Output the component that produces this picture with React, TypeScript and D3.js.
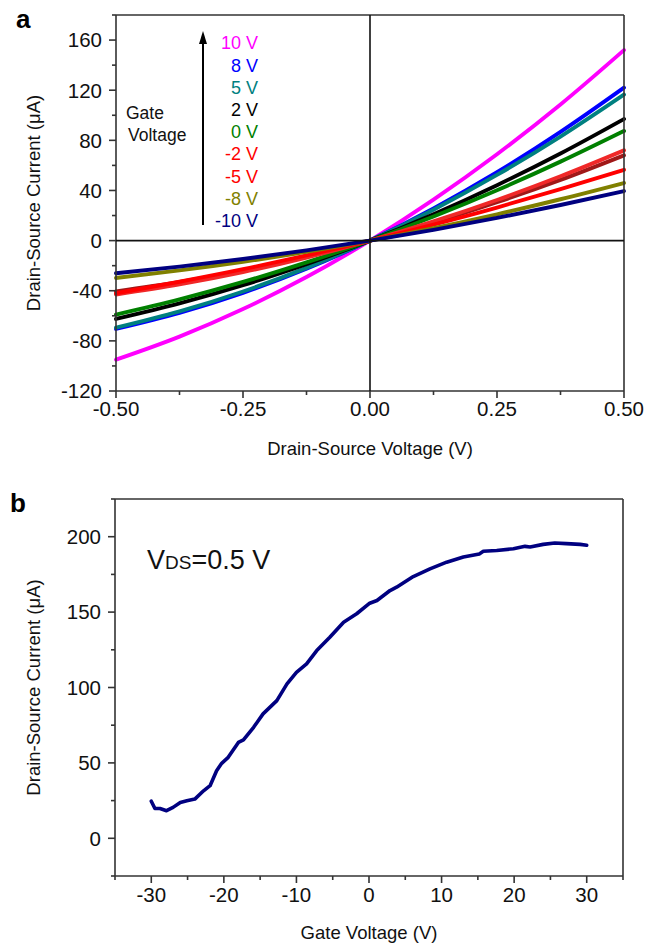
import React from "react";
import * as d3 from "d3";

// ---------- Panel a data ----------
const vds = [-0.5, -0.375, -0.25, -0.125, 0, 0.125, 0.25, 0.375, 0.5];
const i10 = [-95, -76.6, -54.6, -29.1, 0, 32.7, 68.9, 108.6, 152];
const i8 = [-70.5, -57.7, -41.7, -22.5, 0, 25.7, 54.5, 86.7, 122];
const i5 = [-69.5, -56.5, -40.6, -21.8, 0, 24.7, 52.4, 83.0, 116.5];
const i2 = [-62.5, -50.1, -35.6, -18.8, 0, 21.0, 44.2, 69.5, 97];
const i0 = [-59, -46.9, -33.0, -17.4, 0, 19.2, 40.2, 63.0, 87.5];
const im2 = [-43, -34.9, -25.1, -13.5, 0, 15.3, 32.4, 51.3, 72];
const im2b = [-40.5, -33.0, -23.7, -12.7, 0, 14.4, 30.6, 48.4, 68];
const im5 = [-42, -32.8, -22.8, -11.8, 0, 12.8, 26.4, 41.0, 56.5];
const im8 = [-29.8, -23.8, -16.9, -9.0, 0, 10.0, 21.0, 33.0, 46];
const im10 = [-26, -20.8, -14.7, -7.8, 0, 8.6, 18.1, 28.4, 39.5];

const seriesA = [
  { name: "10 V", values: i10, color: "#FF00FF" },
  { name: "8 V", values: i8, color: "#0000FF" },
  { name: "5 V", values: i5, color: "#008080" },
  { name: "2 V", values: i2, color: "#000000" },
  { name: "0 V", values: i0, color: "#008000" },
  { name: "-2 V b", values: im2b, color: "#A01818" },
  { name: "-2 V", values: im2, color: "#F02828" },
  { name: "-5 V", values: im5, color: "#FF0000" },
  { name: "-8 V", values: im8, color: "#808000" },
  { name: "-10 V", values: im10, color: "#000080" },
];

const legendLabels = ["10 V", "8 V", "5 V", "2 V", "0 V", "-2 V", "-5 V", "-8 V", "-10 V"];
const legendColors = ["#FF00FF", "#0000FF", "#008080", "#000000", "#008000", "#FF0000", "#FF0000", "#808000", "#000080"];

const xTicksA = [-0.5, -0.25, 0, 0.25, 0.5];
const xMinorA = [-0.375, -0.125, 0.125, 0.375];
const yTicksA = [-120, -80, -40, 0, 40, 80, 120, 160];
const yMinorA = [-100, -60, -20, 20, 60, 100, 140, 180];

// ---------- Panel b data ----------
const gateV = [-30, -29.5, -28.8, -27.9, -27, -26, -25.1, -24, -22.8, -21.9, -21, -20.3, -19.4, -18, -17.3, -15.9, -14.6, -12.7, -11.3, -10, -8.6, -7.2, -5.4, -3.5, -1.7, 0.1, 1.1, 2.9, 3.8, 6.1, 8.4, 10.7, 13, 15.2, 15.75, 17.6, 19.9, 21.5, 22.2, 24, 25.6, 27.2, 29.1, 30];
const currentB = [24.6, 19.8, 19.8, 18.3, 20.5, 23.8, 24.9, 26, 31.5, 34.9, 44.8, 49.7, 53.7, 63.6, 65.2, 73.6, 82.5, 91.3, 102.4, 110.1, 115.7, 124.5, 133.3, 143.3, 148.9, 155.9, 157.7, 164.3, 166.5, 173.6, 178.7, 183.1, 186.5, 188.6, 190.3, 190.9, 192, 193.6, 193.2, 194.9, 195.8, 195.4, 194.9, 194.3];

const xTicksB = [-30, -20, -10, 0, 10, 20, 30];
const xMinorB = [-35, -25, -15, -5, 5, 15, 25, 35];
const yTicksB = [0, 50, 100, 150, 200];
const yMinorB = [-25, 25, 75, 125, 175, 225];

const FONT = "'Liberation Sans', Arial, Helvetica, sans-serif";
const AXIS = "#333333";

export default function App() {
  const xA = d3.scaleLinear().domain([-0.5, 0.5]).range([116, 624]);
  const yA = d3.scaleLinear().domain([-120, 180]).range([391, 15]);
  const xB = d3.scaleLinear().domain([-35, 35]).range([115, 623]);
  const yB = d3.scaleLinear().domain([-25, 225]).range([876, 499]);

  const lineA = d3
    .line<number>()
    .x((_, i) => xA(vds[i]))
    .y((d) => yA(d))
    .curve(d3.curveMonotoneX);

  const lineB = d3
    .line<number>()
    .x((_, i) => xB(gateV[i]))
    .y((d) => yB(d))
    .curve(d3.curveLinear);

  const [ax0, ax1] = xA.range();
  const [ay0, ay1] = yA.range();
  const [bx0, bx1] = xB.range();
  const [by0, by1] = yB.range();

  const legendX = 258;
  const legendY0 = 43;
  const legendStep = 22.2;

  return (
    <svg
      width={646}
      height={946}
      style={{ position: "absolute", left: 0, top: 0, background: "#fff" }}
      fontFamily={FONT}
    >
      <rect x={0} y={0} width={646} height={946} fill="#fff" />
      {/* ================= Panel a ================= */}
      <text x={16} y={28} fontSize={26} fontWeight="bold" fill="#000">a</text>

      <g fill="none" strokeWidth={3.9} strokeLinecap="round">
        {seriesA.map((s) => (
          <path key={s.name} d={lineA(s.values) || ""} stroke={s.color} />
        ))}
      </g>

      <g stroke={AXIS} strokeWidth={1.6} fill="none">
        <line x1={ax0} y1={ay1} x2={ax1} y2={ay1} />
        <line x1={ax1} y1={ay1} x2={ax1} y2={ay0} />
        <line x1={ax0} y1={ay1} x2={ax0} y2={ay0} />
        <line x1={ax0} y1={ay0} x2={ax1} y2={ay0} />
        <line x1={ax0} y1={yA(0)} x2={ax1} y2={yA(0)} stroke="#111" />
        <line x1={xA(0)} y1={ay1} x2={xA(0)} y2={ay0} stroke="#111" />
        {xTicksA.map((t) => (
          <line key={"xa" + t} x1={xA(t)} x2={xA(t)} y1={ay0} y2={ay0 + 7} />
        ))}
        {xMinorA.map((t) => (
          <line key={"xam" + t} x1={xA(t)} x2={xA(t)} y1={ay0} y2={ay0 + 4} />
        ))}
        {yTicksA.map((t) => (
          <line key={"ya" + t} x1={ax0 - 7} x2={ax0} y1={yA(t)} y2={yA(t)} />
        ))}
        {yMinorA.map((t) => (
          <line key={"yam" + t} x1={ax0 - 4} x2={ax0} y1={yA(t)} y2={yA(t)} />
        ))}
      </g>

      <g fontSize={20.5} fill="#111">
        {xTicksA.map((t) => (
          <text key={"xla" + t} x={xA(t)} y={ay0 + 25} textAnchor="middle">
            {t.toFixed(2)}
          </text>
        ))}
        {yTicksA.map((t) => (
          <text key={"yla" + t} x={ax0 - 14} y={yA(t)} dy="0.36em" textAnchor="end">
            {t}
          </text>
        ))}
      </g>

      <text x={370} y={455} fontSize={18.5} textAnchor="middle" fill="#111">
        Drain-Source Voltage (V)
      </text>
      <text
        transform={`translate(33, ${(ay0 + ay1) / 2}) rotate(-90)`}
        fontSize={18.5}
        textAnchor="middle"
        dy="0.36em"
        fill="#111"
      >
        Drain-Source Current (μA)
      </text>

      {/* legend */}
      <line x1={203} y1={225} x2={203} y2={42} stroke="#000" strokeWidth={2} />
      <path d="M199,44 L203,31 L207,44 Z" fill="#000" />
      <text x={126} y={113} dy="0.36em" fontSize={17.5} fill="#111">Gate</text>
      <text x={128} y={135} dy="0.36em" fontSize={17.5} fill="#111">Voltage</text>
      <g fontSize={18}>
        {legendLabels.map((l, i) => (
          <text
            key={l}
            x={legendX}
            y={legendY0 + i * legendStep}
            dy="0.36em"
            textAnchor="end"
            fill={legendColors[i]}
          >
            {l}
          </text>
        ))}
      </g>

      {/* ================= Panel b ================= */}
      <text x={10} y={512} fontSize={26} fontWeight="bold" fill="#000">b</text>

      <path d={lineB(currentB) || ""} fill="none" stroke="#000080" strokeWidth={3.6} strokeLinejoin="round" strokeLinecap="round" />

      <g stroke={AXIS} strokeWidth={1.6} fill="none">
        <line x1={bx0} y1={by1} x2={bx1} y2={by1} />
        <line x1={bx1} y1={by1} x2={bx1} y2={by0} />
        <line x1={bx0} y1={by1} x2={bx0} y2={by0} />
        <line x1={bx0} y1={by0} x2={bx1} y2={by0} />
        {xTicksB.map((t) => (
          <line key={"xb" + t} x1={xB(t)} x2={xB(t)} y1={by0} y2={by0 + 7} />
        ))}
        {xMinorB.map((t) => (
          <line key={"xbm" + t} x1={xB(t)} x2={xB(t)} y1={by0} y2={by0 + 4} />
        ))}
        {yTicksB.map((t) => (
          <line key={"yb" + t} x1={bx0 - 7} x2={bx0} y1={yB(t)} y2={yB(t)} />
        ))}
        {yMinorB.map((t) => (
          <line key={"ybm" + t} x1={bx0 - 4} x2={bx0} y1={yB(t)} y2={yB(t)} />
        ))}
      </g>

      <g fontSize={20.5} fill="#111">
        {xTicksB.map((t) => (
          <text key={"xlb" + t} x={xB(t)} y={by0 + 26} textAnchor="middle">
            {t}
          </text>
        ))}
        {yTicksB.map((t) => (
          <text key={"ylb" + t} x={bx0 - 14} y={yB(t)} dy="0.36em" textAnchor="end">
            {t}
          </text>
        ))}
      </g>

      <text x={369} y={939} fontSize={18.5} textAnchor="middle" fill="#111">
        Gate Voltage (V)
      </text>
      <text
        transform={`translate(33, ${(by0 + by1) / 2}) rotate(-90)`}
        fontSize={18.5}
        textAnchor="middle"
        dy="0.36em"
        fill="#111"
      >
        Drain-Source Current (μA)
      </text>

      <text x={147} y={569} fontSize={27} fill="#111">
        V<tspan fontSize={19}>DS</tspan>=0.5 V
      </text>
    </svg>
  );
}
